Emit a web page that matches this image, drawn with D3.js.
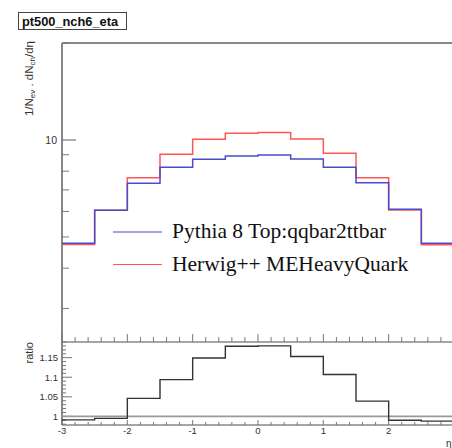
<!DOCTYPE html>
<html><head><meta charset="utf-8">
<script src="https://cdn.jsdelivr.net/npm/d3@7"></script>
<style>body{margin:0;background:#fff}svg{display:block}</style>
</head><body>
<svg id="c" width="452" height="448"></svg>
<script>
const binEdges = [-3,-2.5,-2,-1.5,-1,-0.5,0,0.5,1,1.5,2,2.5,3];
const pythia = [4.78,6.05,7.34,8.23,8.71,8.92,8.98,8.73,8.23,7.36,6.09,4.78];
const herwig = [4.74,6.05,7.64,9.03,10.05,10.49,10.54,10.07,9.09,7.64,6.06,4.73];
const ratio = [0.991,0.995,1.046,1.094,1.149,1.179,1.18,1.153,1.107,1.039,0.99,0.988];
const xTickLabels = ["-3","-2","-1","0","1","2"];
const ratioTicks = [1,1.05,1.1,1.15];
const legendLabels = ["Pythia 8 Top:qqbar2ttbar","Herwig++ MEHeavyQuark"];

const svg = d3.select("#c");
const L=62, R=454, T=43, MB=342, RB=425;
const x = d3.scaleLinear().domain([-3,3]).range([L,R]);
const y = d3.scaleLog().domain([2.36,20]).range([MB,T]);
const yr = d3.scaleLinear().domain([0.978,1.19]).range([RB,MB]);
const axisCol="#888", txtCol="#333", sans="Liberation Sans, Arial, sans-serif";

function stepPath(vals, ys){
  let d="";
  vals.forEach((v,i)=>{
    const x0=x(binEdges[i]), x1=x(binEdges[i+1]), yy=ys(v);
    d += (i===0? `M${x0},${yy}` : `L${x0},${yy}`) + `L${x1},${yy}`;
  });
  return d;
}

// frames
svg.append("line").attr("x1",L).attr("x2",452).attr("y1",T).attr("y2",T).attr("stroke",axisCol).attr("stroke-width",2);
svg.append("line").attr("x1",L).attr("x2",L).attr("y1",T).attr("y2",RB).attr("stroke",axisCol).attr("stroke-width",2);
svg.append("line").attr("x1",L).attr("x2",452).attr("y1",MB).attr("y2",MB).attr("stroke",axisCol).attr("stroke-width",1.5);
svg.append("line").attr("x1",L).attr("x2",452).attr("y1",RB).attr("y2",RB).attr("stroke",axisCol).attr("stroke-width",1.5);

// main y ticks (log)
const logMinor=[3,4,5,6,7,8,9,20];
const gy=svg.append("g");
logMinor.forEach(v=>{gy.append("line").attr("x1",L).attr("x2",L+7).attr("y1",y(v)).attr("y2",y(v)).attr("stroke","#777").attr("stroke-width",1);});
gy.append("line").attr("x1",L).attr("x2",L+14).attr("y1",y(10)).attr("y2",y(10)).attr("stroke","#777").attr("stroke-width",1.2);
gy.append("text").attr("x",L-5).attr("y",y(10)).attr("dy","0.35em").attr("text-anchor","end").attr("font-family",sans).attr("font-size",10.5).attr("fill",txtCol).text("10");

// x ticks on main bottom and ratio bottom
const xmin = d3.range(-3,3.001,0.2).map(v=>+v.toFixed(2));
xmin.forEach(v=>{
  const maj=Math.abs(v-Math.round(v))<1e-6;
  const xx=x(v);
  if(xx>452) return;
  svg.append("line").attr("x1",xx).attr("x2",xx).attr("y1",MB).attr("y2",MB-(maj?8:5)).attr("stroke","#777").attr("stroke-width",1);
  svg.append("line").attr("x1",xx).attr("x2",xx).attr("y1",RB).attr("y2",RB-(maj?5:3)).attr("stroke","#777").attr("stroke-width",1);
});
xTickLabels.forEach(s=>{
  svg.append("text").attr("x",x(+s)).attr("y",RB+9).attr("text-anchor","middle").attr("font-family",sans).attr("font-size",9.5).attr("fill",txtCol).text(s);
});

// ratio y ticks
d3.range(0.98,1.1901,0.01).forEach(v=>{
  const maj=ratioTicks.some(t=>Math.abs(t-v)<1e-6);
  svg.append("line").attr("x1",L).attr("x2",L+(maj?10:4)).attr("y1",yr(v)).attr("y2",yr(v)).attr("stroke","#777").attr("stroke-width",1);
});
ratioTicks.forEach(v=>{
  svg.append("text").attr("x",L-4).attr("y",yr(v)).attr("dy","0.35em").attr("text-anchor","end").attr("font-family",sans).attr("font-size",9.5).attr("fill",txtCol).text(String(v));
});

// histograms
svg.append("path").attr("d",stepPath(herwig,y)).attr("fill","none").attr("stroke","#ff5555").attr("stroke-width",1.5);
svg.append("path").attr("d",stepPath(pythia,y)).attr("fill","none").attr("stroke","#4b4bcc").attr("stroke-width",1.5);

// ratio
svg.append("line").attr("x1",L).attr("x2",452).attr("y1",yr(1)).attr("y2",yr(1)).attr("stroke","#999").attr("stroke-width",1.8);
svg.append("path").attr("d",stepPath(ratio,yr)).attr("fill","none").attr("stroke","#333").attr("stroke-width",1.4);

// legend
const legCols=["#4b4bcc","#ff5555"];
[232,264.5].forEach((ly,i)=>{
  svg.append("line").attr("x1",113).attr("x2",162).attr("y1",ly).attr("y2",ly).attr("stroke",legCols[i]).attr("stroke-width",1.2);
  svg.append("text").attr("x",172).attr("y",ly+6).attr("font-family","Liberation Serif, Times New Roman, serif").attr("font-size",21.5).attr("fill","#111").text(legendLabels[i]);
});

// title box
svg.append("rect").attr("x",18.5).attr("y",12.5).attr("width",108).attr("height",17).attr("fill","#fff").attr("stroke","#444").attr("stroke-width",1);
svg.append("text").attr("x",22).attr("y",25.5).attr("font-family",sans).attr("font-weight","bold").attr("font-size",12.8).attr("fill","#111").text("pt500_nch6_eta");

// y labels
const yl=svg.append("text").attr("transform","translate(33,41) rotate(-90)").attr("text-anchor","end").attr("font-family",sans).attr("font-size",11.5).attr("fill",txtCol);
yl.append("tspan").text("1/N");
yl.append("tspan").attr("font-size",8).attr("dy",2).text("ev");
yl.append("tspan").attr("dy",-2).text(" . dN");
yl.append("tspan").attr("font-size",8).attr("dy",2).text("ch");
yl.append("tspan").attr("dy",-2).text("/dη");
svg.append("text").attr("transform","translate(33,342) rotate(-90)").attr("text-anchor","end").attr("font-family",sans).attr("font-size",11).attr("fill",txtCol).text("ratio");
svg.append("text").attr("x",446).attr("y",447).attr("font-family",sans).attr("font-size",10).attr("fill",txtCol).text("η");
</script>
</body></html>
